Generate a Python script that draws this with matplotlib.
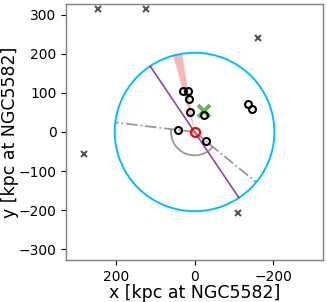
import numpy as np
import matplotlib
matplotlib.use("Agg")
import matplotlib.pyplot as plt
from matplotlib.patches import Circle, Wedge, Arc

# Data (kpc at NGC5582)
bg_x = [245, 123, -161, 282, -110]
bg_y = [314, 314, 241, -57, -207]
sat_x = [30, 17, 14, 12, -25, -137, -147, 43, -28]
sat_y = [104, 106, 84, 51, 44, 72, 58, 5, -23]
green_x = [-25]
green_y = [55]
host_x = [0]
host_y = [0]
radius = 203
plane_angle = 56.2          # deg, purple line through host
wedge_theta = (74.4, 81.1)  # deg
ray_angles = (6.9, -140.6)  # deg, grey dash-dot rays
arc_radius = 60

fig = plt.figure(figsize=(3.27, 3.02), dpi=100)
ax = fig.add_axes([0.203, 0.139, 0.784, 0.848])

ax.add_patch(Wedge((0, 0), radius, wedge_theta[0], wedge_theta[1],
                   facecolor='lightcoral', alpha=0.55, edgecolor='none', zorder=1))
ax.add_patch(Circle((0, 0), radius, fill=False, edgecolor='deepskyblue', lw=1.4, zorder=2))

t = np.radians(plane_angle)
ax.plot([radius * np.cos(t), -radius * np.cos(t)],
        [radius * np.sin(t), -radius * np.sin(t)], color='#8e44ad', lw=1.2, zorder=2)

for a in ray_angles:
    r = np.radians(a)
    ax.plot([0, radius * np.cos(r)], [0, radius * np.sin(r)], color='gray',
            ls='-.', lw=1.3, alpha=0.8, zorder=2)
ax.add_patch(Arc((0, 0), 2 * arc_radius, 2 * arc_radius, theta1=ray_angles[1],
                 theta2=ray_angles[0], color='gray', lw=1.3, alpha=0.8, zorder=2))

ax.plot(bg_x, bg_y, 'x', color='#555555', ms=4, mew=1.5, ls='none', zorder=3)
ax.plot(sat_x, sat_y, 'o', mfc='none', mec='black', ms=5, mew=1.5, ls='none', zorder=4)
ax.plot(green_x, green_y, 'x', color='#5cb85c', ms=8, mew=2.8, ls='none', zorder=3)
ax.plot(host_x, host_y, 'o', mfc='none', mec='red', ms=6.5, mew=1.6, ls='none', zorder=5)

ax.set_xlim(326, -326)
ax.set_ylim(-328, 328)
ax.set_xticks([200, 0, -200])
ax.set_yticks([-300, -200, -100, 0, 100, 200, 300])
ax.tick_params(labelsize=10, length=3.5)
ax.set_xlabel('x [kpc at NGC5582]', fontsize=12.5, labelpad=0)
ax.set_ylabel('y [kpc at NGC5582]', fontsize=12.5, labelpad=0)
for s in ax.spines.values():
    s.set_color('gray')
    s.set_linewidth(1.0)

fig.savefig('out.png', dpi=100)
